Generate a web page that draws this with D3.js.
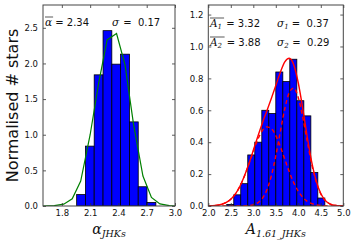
<!DOCTYPE html>
<html>
<head>
<meta charset="utf-8">
<script src="https://cdn.jsdelivr.net/npm/d3@7"></script>
<style>
  body { margin: 0; background: #fff; }
  svg text { font-family: "DejaVu Sans", sans-serif; fill: #111; }
  .math { font-family: "DejaVu Serif", serif; font-style: italic; }
</style>
</head>
<body>
<svg id="chart" width="353" height="242"></svg>
<script>
// left panel: alpha_JHKs histogram + fitted curve
var alphaEdges = [1.957, 2.050, 2.143, 2.237, 2.330, 2.423, 2.517, 2.610, 2.703, 2.797]
var alphaHeights = [0.16, 0.84, 1.84, 2.46, 1.99, 2.13, 1.18, 0.27, 0.05]
var alphaFitX = [1.60, 1.72, 1.82, 1.91, 2.00, 2.10, 2.19, 2.28, 2.38, 2.47, 2.56, 2.66, 2.75, 2.84, 2.94, 3.00]
var alphaFitY = [0.00, 0.005, 0.025, 0.10, 0.35, 1.00, 1.72, 2.33, 2.42, 1.98, 1.15, 0.42, 0.12, 0.03, 0.005, 0.00]
var alphaTicksX = [1.8, 2.1, 2.4, 2.7, 3.0]
var alphaTicksY = [0.0, 0.5, 1.0, 1.5, 2.0, 2.5]

// right panel: A_1.61 histogram + two component fit
var extEdges = [2.410, 2.566, 2.721, 2.877, 3.033, 3.189, 3.344, 3.500, 3.656, 3.811, 3.967, 4.123, 4.279, 4.434, 4.590]
var extHeights = [0.01, 0.07, 0.14, 0.32, 0.40, 0.60, 0.58, 0.84, 0.78, 0.92, 0.66, 0.565, 0.21, 0.05]
var extFitX = [2.0, 2.1, 2.2, 2.3, 2.4, 2.5, 2.6, 2.7, 2.8, 2.9, 3.0, 3.1, 3.2, 3.3, 3.4, 3.5,
  3.6, 3.7, 3.8, 3.9, 4.0, 4.1, 4.2, 4.3, 4.4, 4.5, 4.6, 4.7, 4.8, 4.9, 5.0]
var extComp1 = [0.001, 0.002, 0.005, 0.011, 0.023, 0.043, 0.075, 0.122, 0.185, 0.261, 0.342, 0.416, 0.472, 0.496, 0.486, 0.441,
  0.373, 0.293, 0.214, 0.145, 0.092, 0.054, 0.029, 0.015, 0.007, 0.003, 0.001, 0, 0, 0, 0]
var extComp2 = [0, 0, 0, 0, 0, 0, 0, 0, 0.001, 0.002, 0.007, 0.020, 0.047, 0.100, 0.188, 0.314,
  0.464, 0.610, 0.712, 0.739, 0.679, 0.555, 0.402, 0.259, 0.148, 0.075, 0.034, 0.014, 0.005, 0.002, 0]
var extTotal = [0.001, 0.002, 0.005, 0.011, 0.023, 0.043, 0.075, 0.122, 0.186, 0.263, 0.349, 0.436, 0.519, 0.596, 0.674, 0.755,
  0.837, 0.903, 0.926, 0.884, 0.771, 0.609, 0.431, 0.274, 0.155, 0.078, 0.035, 0.014, 0.005, 0.002, 0]
var extTicksX = [2.0, 2.5, 3.0, 3.5, 4.0, 4.5, 5.0]
var extTicksY = [0.0, 0.2, 0.4, 0.6, 0.8, 1.0, 1.2]

var svg = d3.select('#chart')
var plotTop = 5, plotBottom = 206
var tickLen = 3

function panel(id, x0, x1, xDomain, yDomain, xTicks, yTicks){
  var x = d3.scaleLinear().domain(xDomain).range([x0, x1])
  var y = d3.scaleLinear().domain(yDomain).range([plotBottom, plotTop])
  var g = svg.append('g')

  g.append('clipPath').attr('id', id)
    .append('rect').attr('x', x0).attr('y', plotTop).attr('width', x1 - x0).attr('height', plotBottom - plotTop)

  var plot = g.append('g').attr('clip-path', 'url(#' + id + ')')
  var axes = svg.append('g')

  function axisStyle(sel){
    sel.select('.domain').remove()
    sel.selectAll('line').attr('stroke', '#333').attr('stroke-width', 0.8)
    sel.selectAll('text').style('font-size', '8.5px').attr('fill', '#111')
  }

  // ticks on all four sides, pointing in
  axes.append('g').attr('transform', 'translate(0,' + plotBottom + ')')
    .call(d3.axisBottom(x).tickValues(xTicks).tickFormat(d3.format('.1f'))
      .tickSizeInner(-tickLen).tickSizeOuter(0).tickPadding(4))
    .call(axisStyle)
  axes.append('g').attr('transform', 'translate(0,' + plotTop + ')')
    .call(d3.axisTop(x).tickValues(xTicks).tickFormat('').tickSizeInner(-tickLen).tickSizeOuter(0))
    .call(axisStyle)
  axes.append('g').attr('transform', 'translate(' + x0 + ',0)')
    .call(d3.axisLeft(y).tickValues(yTicks).tickFormat(d3.format('.1f'))
      .tickSizeInner(-tickLen).tickSizeOuter(0).tickPadding(5))
    .call(axisStyle)
  axes.append('g').attr('transform', 'translate(' + x1 + ',0)')
    .call(d3.axisRight(y).tickValues(yTicks).tickFormat('').tickSizeInner(-tickLen).tickSizeOuter(0))
    .call(axisStyle)

  return {g: axes, plot, x, y, x0, x1}
}

function drawBars(p, edges, heights){
  p.plot.selectAll('rect.bar').data(heights).enter().append('rect')
    .attr('class', 'bar')
    .attr('x', (d, i) => p.x(edges[i]))
    .attr('width', (d, i) => p.x(edges[i + 1]) - p.x(edges[i]))
    .attr('y', d => p.y(d))
    .attr('height', d => p.y(0) - p.y(d))
    .attr('fill', '#0000ff')
    .attr('stroke', '#000')
    .attr('stroke-width', 0.8)
}

function drawLine(p, xs, ys, color, width, dash, curve){
  var line = d3.line().x(d => p.x(d[0])).y(d => p.y(d[1])).curve(curve || d3.curveLinear)
  p.plot.append('path')
    .datum(xs.map((v, i) => [v, ys[i]]))
    .attr('d', line)
    .attr('fill', 'none')
    .attr('stroke', color)
    .attr('stroke-width', width)
    .attr('stroke-dasharray', dash || null)
}

function frame(p){
  p.g.append('rect')
    .attr('x', p.x0).attr('y', plotTop).attr('width', p.x1 - p.x0).attr('height', plotBottom - plotTop)
    .attr('fill', 'none').attr('stroke', '#444').attr('stroke-width', 1)
}

// symbol (math italic) with optional subscript and overline, followed by plain text
function mathText(g, x, y, sym, sub, rest, over){
  var t = g.append('text').attr('x', x).attr('y', y).style('font-size', '10.5px')
  t.append('tspan').attr('class', 'math').text(sym)
  if (sub) t.append('tspan').attr('class', 'math').style('font-size', '7px').attr('dy', 2).text(sub)
  var w = t.node().getBBox().width
  if (over){
    g.append('line').attr('x1', x).attr('x2', x + w + 1)
      .attr('y1', y - 9).attr('y2', y - 9).attr('stroke', '#111').attr('stroke-width', 0.7)
  }
  g.append('text').attr('x', x + w).attr('y', y).style('font-size', '10px')
    .style('white-space', 'pre').text(rest)
}

// left panel
var L = panel('clipL', 43, 175, [1.6, 3.0], [0, 2.82], alphaTicksX, alphaTicksY)
drawBars(L, alphaEdges, alphaHeights)
drawLine(L, alphaFitX, alphaFitY, '#008000', 1.2)
frame(L)
mathText(L.g, 45, 26, 'α', '', ' = 2.34', true)
mathText(L.g, 112, 26, 'σ', '', ' =  0.17', false)

// right panel
var R = panel('clipR', 208.3, 343.3, [2.0, 5.0], [0, 1.26], extTicksX, extTicksY)
drawBars(R, extEdges, extHeights)
drawLine(R, extFitX, extTotal, '#ff0000', 1.4, null, d3.curveMonotoneX)
drawLine(R, extFitX, extComp1, '#ff0000', 1.4, '4,3', d3.curveMonotoneX)
drawLine(R, extFitX, extComp2, '#ff0000', 1.4, '4,3', d3.curveMonotoneX)
frame(R)
mathText(R.g, 210, 27, 'A', '1', ' = 3.32', true)
mathText(R.g, 277, 27, 'σ', '1', ' =  0.37', false)
mathText(R.g, 210, 46, 'A', '2', ' = 3.88', true)
mathText(R.g, 277, 46, 'σ', '2', ' =  0.29', false)

// axis labels
svg.append('text')
  .attr('transform', 'translate(18,' + (plotTop + plotBottom) / 2 + ') rotate(-90)')
  .attr('text-anchor', 'middle')
  .style('font-size', '16px')
  .text('Normalised # stars')

function xLabel(cx, sym, sub){
  var t = svg.append('text').attr('x', cx).attr('y', 234).attr('text-anchor', 'middle')
    .style('font-size', '14px')
  t.append('tspan').attr('class', 'math').text(sym)
  t.append('tspan').attr('class', 'math').style('font-size', '9.5px').attr('dy', 3).text(sub)
}
xLabel((L.x0 + L.x1) / 2, 'α', 'JHKs')
xLabel((R.x0 + R.x1) / 2, 'A', '1.61_JHKs')
</script>
</body>
</html>
